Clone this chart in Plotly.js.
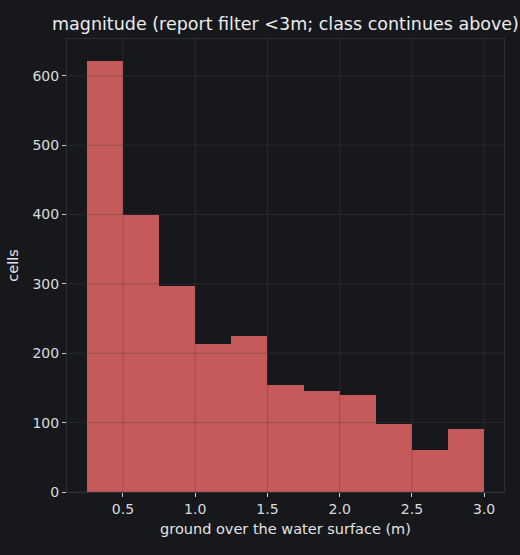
<!DOCTYPE html>
<html>
<head>
<meta charset="utf-8">
<script src="https://cdn.plot.ly/plotly-3.0.1.min.js"></script>
<style>
  html, body { margin: 0; padding: 0; background: #16181c; }
  #chart { width: 520px; height: 555px; }
</style>
</head>
<body>
<div id="chart"></div>
<script>
// Histogram bin edges (m) and counts per bin
const binEdges = [0.25, 0.5, 0.75, 1.0, 1.25, 1.5, 1.75, 2.0, 2.25, 2.5, 2.75, 3.0];
const counts = [622, 399, 297, 213, 225, 154, 146, 140, 98, 60, 91];
const xTickVals = [0.5, 1.0, 1.5, 2.0, 2.5, 3.0];
const xTickText = ["0.5", "1.0", "1.5", "2.0", "2.5", "3.0"];
const yTickVals = [0, 100, 200, 300, 400, 500, 600];
const titleText = "magnitude (report filter &lt;3m; class continues above)";
const xTitle = "ground over the water surface (m)";
const yTitle = "cells";

const starts = binEdges.slice(0, -1);
const widths = starts.map((s, i) => binEdges[i + 1] - s);

const xMin = binEdges[0], xMax = binEdges[binEdges.length - 1];
const xPad = (xMax - xMin) * 0.05;
const yMax = Math.max(...counts) * 1.05;

const gridColor = "rgba(66,68,72,0.38)";
const shapes = [];
xTickVals.forEach(v => shapes.push({
  type: "line", layer: "above", xref: "x", yref: "paper",
  x0: v, x1: v, y0: 0, y1: 1, line: { color: gridColor, width: 1 }
}));
yTickVals.forEach(v => shapes.push({
  type: "line", layer: "above", xref: "paper", yref: "y",
  x0: 0, x1: 1, y0: v, y1: v, line: { color: gridColor, width: 1 }
}));

const trace = {
  type: "bar",
  x: starts,
  y: counts,
  width: widths,
  offset: 0,
  marker: { color: "#c65a5a", line: { width: 0 } },
  hoverinfo: "x+y"
};

const axisCommon = {
  showgrid: false,
  zeroline: false,
  showline: true,
  mirror: true,
  linecolor: "#2c2f34",
  linewidth: 1,
  ticks: "outside",
  ticklen: 4,
  tickwidth: 1,
  tickcolor: "#cfcfcf",
  tickfont: { family: "DejaVu Sans", size: 14, color: "#dcdcdc" }
};

const layout = {
  width: 520,
  height: 555,
  paper_bgcolor: "#16181c",
  plot_bgcolor: "#16181c",
  margin: { l: 67, r: 16, t: 39, b: 63 },
  showlegend: false,
  bargap: 0,
  title: {
    text: titleText,
    font: { family: "DejaVu Sans", size: 17.5, color: "#ececec" },
    x: 0.549, xanchor: "center", y: 0.957, yanchor: "middle"
  },
  xaxis: Object.assign({}, axisCommon, {
    range: [xMin - xPad, xMax + xPad],
    tickvals: xTickVals,
    ticktext: xTickText,
    title: { text: xTitle, font: { family: "DejaVu Sans", size: 14.5, color: "#e4e4e4" }, standoff: 8 }
  }),
  yaxis: Object.assign({}, axisCommon, {
    range: [0, yMax],
    tickvals: yTickVals,
    title: { text: yTitle, font: { family: "DejaVu Sans", size: 14.5, color: "#e4e4e4" }, standoff: 10 }
  }),
  shapes: shapes
};

Plotly.newPlot("chart", [trace], layout, { displayModeBar: false, staticPlot: true });
</script>
</body>
</html>
